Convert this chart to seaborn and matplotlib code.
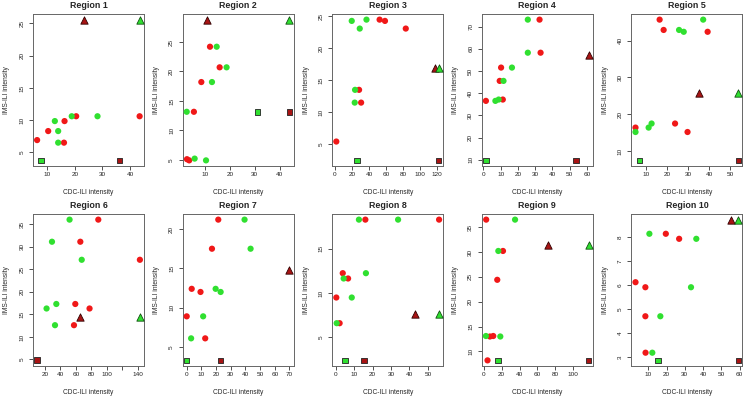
import matplotlib
matplotlib.use("Agg")
import matplotlib.pyplot as plt
import seaborn as sns
import pandas as pd

# ---------------- data ----------------
regions = ["Region 1", "Region 2", "Region 3", "Region 4", "Region 5",
           "Region 6", "Region 7", "Region 8", "Region 9", "Region 10"]

red_x = [
    [6.4, 10.4, 16.3, 16.1, 20.5, 43.4],
    [2.6, 3.5, 5.4, 8.4, 11.9, 15.8],
    [1.6, 30.7, 28.3, 52.4, 58.7, 83.1],
    [1.4, 11.2, 9.4, 10.2, 33.1, 32.5],
    [5.1, 29.7, 23.8, 16.5, 18.4, 39.2],
    [57.6, 59.3, 77.7, 142.7, 65.8, 89.0],
    [0.0, 12.6, 3.4, 9.4, 17.2, 21.5],
    [2.0, 0.2, 6.6, 3.7, 16.0, 56.1],
    [4.2, 6.9, 10.6, 15.1, 21.5, 2.7],
    [8.5, 8.4, 8.4, 3.0, 26.9, 19.6],
]
red_y = [
    [6.9, 8.3, 9.85, 6.5, 10.6, 10.6],
    [5.1, 4.9, 13.15, 18.2, 24.2, 20.7],
    [5.4, 11.5, 13.5, 24.5, 24.3, 23.1],
    [36.5, 37.1, 45.5, 51.5, 58.2, 73.1],
    [16.4, 15.2, 17.5, 45.7, 42.9, 42.4],
    [12.6, 17.3, 16.3, 27.1, 31.1, 36.0],
    [8.9, 6.1, 12.4, 12.0, 17.5, 21.2],
    [6.6, 9.5, 11.65, 12.25, 18.3, 18.3],
    [8.2, 13.0, 13.1, 24.4, 30.2, 36.5],
    [3.18, 4.70, 5.91, 6.12, 7.93, 8.14],
]
green_x = [
    [12.8, 14.0, 14.0, 18.9, 28.2],
    [2.5, 5.7, 10.3, 12.7, 14.6, 18.6],
    [23.2, 23.6, 29.1, 19.7, 37.0],
    [6.9, 8.8, 11.6, 16.5, 25.7, 25.7],
    [5.1, 11.3, 12.7, 25.7, 27.9, 37.1],
    [33.1, 22.2, 34.8, 67.6, 29.2, 51.9],
    [3.0, 11.2, 19.7, 23.1, 43.5, 39.4],
    [0.4, 8.6, 4.2, 16.3, 12.5, 33.8],
    [2.4, 18.5, 16.3, 35.0],
    [12.2, 16.6, 33.4, 36.3, 10.6],
]
green_y = [
    [9.85, 8.3, 6.5, 10.6, 10.6],
    [13.15, 5.2, 4.9, 18.2, 24.2, 20.7],
    [11.5, 13.5, 23.1, 24.3, 24.5],
    [36.5, 37.1, 45.5, 51.5, 58.2, 73.1],
    [15.2, 16.4, 17.5, 42.9, 42.4, 45.7],
    [12.6, 16.3, 17.3, 27.1, 31.1, 36.0],
    [6.1, 8.9, 12.4, 12.0, 17.5, 21.2],
    [6.6, 9.5, 11.65, 12.25, 18.3, 18.3],
    [13.1, 13.0, 30.2, 36.5],
    [3.18, 4.70, 5.91, 7.93, 8.14],
]
# special markers: (x, y) or None when absent
red_tri = [(23.3, 25.6), (10.7, 28.8), (116.9, 17.0), (61.0, 57.2), (35.1, 25.7),
           (65.4, 14.5), (70.0, 14.8), (42.8, 7.6), (71.5, 31.4), (55.1, 8.73)]
green_tri = [(43.5, 25.6), (44.0, 28.8), (122.2, 17.0), None, (53.7, 25.7),
             (142.7, 14.5), None, (56.1, 7.6), (117.4, 31.4), (59.3, 8.73)]
red_sq = [(36.2, 3.75), (44.0, 13.15), (121.6, 2.45), (53.5, 9.7), (53.7, 7.5),
          (10.0, 4.8), (22.9, 3.3), (15.4, 2.4), (117.4, 8.2), (59.3, 2.86)]
green_sq = [(7.8, 3.75), (31.0, 13.15), (25.6, 2.45), (1.6, 9.7), (7.0, 7.5),
            None, (0.0, 3.3), (5.0, 2.4), (15.9, 8.2), (15.3, 2.86)]

x_ticks = [
    [10, 20, 30, 40], [10, 20, 30, 40], [0, 20, 40, 60, 80, 100, 120],
    [0, 10, 20, 30, 40, 50, 60], [10, 20, 30, 40, 50],
    [20, 40, 60, 80, 100, 120, 140], [0, 10, 20, 30, 40, 50, 60, 70],
    [0, 10, 20, 30, 40, 50], [0, 20, 40, 60, 80, 100], [10, 20, 30, 40, 50, 60],
]
x_tick_labels_6 = ["20", "40", "60", "80", "100", "", "140"]
y_ticks = [
    [5, 10, 15, 20, 25], [5, 10, 15, 20, 25], [5, 10, 15, 20, 25],
    [10, 20, 30, 40, 50, 60, 70], [10, 20, 30, 40],
    [5, 10, 15, 20, 25, 30, 35], [5, 10, 15, 20], [5, 10, 15],
    [10, 15, 20, 25, 30, 35], [3, 4, 5, 6, 7, 8],
]

# ---------------- style ----------------
sns.set_style("white")
plt.rcParams["font.family"] = ["Liberation Sans", "DejaVu Sans"]

RED = "#f01818"
GREEN = "#30e030"
DARKRED = "#a81414"

W, H = 748, 401
fig = plt.figure(figsize=(W / 100, H / 100), dpi=100)

col_w = W / 5
ax_left_off, ax_w = 33, 111
rows_top = [14, 214]
ax_h = 152


def padded(vals):
    lo, hi = min(vals), max(vals)
    d = (hi - lo) * 0.04
    return lo - d, hi + d


for i, name in enumerate(regions):
    r, c = divmod(i, 5)
    left = (col_w * c + ax_left_off) / W
    bottom = 1 - (rows_top[r] + ax_h) / H
    ax = fig.add_axes([left, bottom, ax_w / W, ax_h / H])

    pts = pd.DataFrame({
        "x": red_x[i] + green_x[i],
        "y": red_y[i] + green_y[i],
        "kind": ["red"] * len(red_x[i]) + ["green"] * len(green_x[i]),
    })
    sq_rows = []
    if green_sq[i] is not None:
        sq_rows.append((green_sq[i][0], green_sq[i][1], "gsq"))
    sq_rows.append((red_sq[i][0], red_sq[i][1], "rsq"))
    sq = pd.DataFrame(sq_rows, columns=["x", "y", "kind"])
    tri_rows = [(red_tri[i][0], red_tri[i][1], "rtri")]
    if green_tri[i] is not None:
        tri_rows.append((green_tri[i][0], green_tri[i][1], "gtri"))
    tri = pd.DataFrame(tri_rows, columns=["x", "y", "kind"])

    sns.scatterplot(data=sq, x="x", y="y", hue="kind",
                    palette={"gsq": GREEN, "rsq": DARKRED}, marker="s", s=16,
                    edgecolor="#222222", linewidth=0.6, legend=False, ax=ax, zorder=3)
    sns.scatterplot(data=pts, x="x", y="y", hue="kind",
                    palette={"red": RED, "green": GREEN}, marker="o", s=20,
                    edgecolor="none", linewidth=0, legend=False, ax=ax, zorder=4)
    for _, row in tri.iterrows():
        col = DARKRED if row["kind"] == "rtri" else GREEN
        ec = "#300000" if row["kind"] == "rtri" else "#105010"
        sns.scatterplot(x=[row["x"]], y=[row["y"]], color=col, marker="^", s=28,
                        edgecolor=ec, linewidth=0.6, legend=False, ax=ax, zorder=5)

    all_x = list(pts["x"]) + list(sq["x"]) + list(tri["x"])
    all_y = list(pts["y"]) + list(sq["y"]) + list(tri["y"])

    ax.set_xticks(x_ticks[i])
    if i == 5:
        ax.set_xticklabels(x_tick_labels_6)
    ax.set_yticks(y_ticks[i])
    ax.set_xlim(*padded(all_x))
    ax.set_ylim(*padded(all_y))

    ax.set_title(name, fontsize=6.4, fontweight="bold", pad=4.5)
    ax.set_xlabel("CDC-ILI intensity", fontsize=4.8)
    ax.set_ylabel("IMS-ILI intensity", fontsize=4.8)
    ax.xaxis.set_label_coords(0.5, -27 / ax_h)
    ax.xaxis.label.set_verticalalignment("center")
    ax.yaxis.set_label_coords(-26 / ax_w, 0.5)
    ax.yaxis.label.set_verticalalignment("center")

    ax.tick_params(axis="both", which="both", direction="out", length=3,
                   width=0.6, color="#333333", labelsize=4.6, labelcolor="#222222",
                   bottom=True, left=True, pad=1.5)
    ax.tick_params(axis="y", labelrotation=90, pad=3.2)
    for lab in ax.get_yticklabels():
        lab.set_verticalalignment("center")
    for sp in ax.spines.values():
        sp.set_visible(True)
        sp.set_color("#666666")
        sp.set_linewidth(0.7)

fig.savefig("out.png", dpi=100)
